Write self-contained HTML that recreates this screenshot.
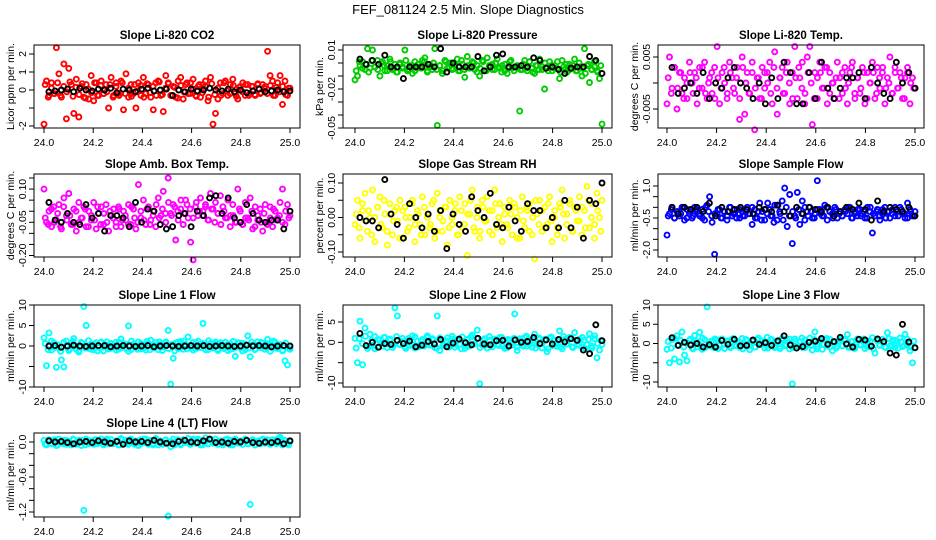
<!DOCTYPE html>
<html><head><meta charset="utf-8">
<style>
html,body{margin:0;padding:0;background:#fff;}
svg{display:block;font-family:"Liberation Sans",sans-serif;}
</style></head>
<body>
<svg id="chart" width="936" height="540" viewBox="0 0 936 540" xmlns="http://www.w3.org/2000/svg">
<text x="468" y="14" text-anchor="middle" font-size="13">FEF_081124  2.5 Min. Slope Diagnostics</text>
</svg>
<script>
// ---- data arrays ----
const xTicks = [24.0, 24.2, 24.4, 24.6, 24.8, 25.0];
const xTickLabels = ["24.0", "24.2", "24.4", "24.6", "24.8", "25.0"];

const co2Vals = [-1.9,0.5,-0.3,0.4,-0.2,2.35,0.9,-0.4,1.45,-1.6,1.2,0.3,-1.3,0.6,-1.5,0.2,-0.4,0.3,-0.5,0.8,-0.6,0.4,-0.3,0.5,-0.2,0.3,-1.0,0.7,-0.3,0.4,-0.2,0.5,-1.1,0.9,-0.4,0.3,-0.2,-1.0,0.4,-0.3,0.7,-0.2,0.3,-0.4,-1.1,0.4,0.5,-0.3,-1.2,0.8,0.4,-0.3,0.2,-0.4,0.5,0.7,-0.5,0.3,-0.2,0.4,0.6,-0.3,0.2,-0.4,0.3,0.5,-0.6,0.7,-1.9,-1.3,-0.5,0.4,-0.2,0.5,-0.3,0.3,0.6,-0.2,-0.5,0.2,0.4,-0.3,0.3,-0.2,0.2,-0.3,0.3,-0.2,0.3,0.2,2.15,0.8,0.5,-0.3,0.4,0.8,-0.8,0.5,-0.3,0.1];
const co2Band = [0.3,-0.4,0.1,-0.2,0.4,-0.3,0.2,-0.1,0.45,-0.35,0.15,-0.25,0.35,-0.45,0.05,-0.15,0.4,-0.3,0.25,-0.2,-0.1,0.3,-0.4,0.2,-0.3,0.4,-0.2,0.1,-0.35,0.3,-0.05,0.25,-0.4,0.35,-0.15,0.2,-0.3,0.45,-0.25,0.1,0.35,-0.3,0.15,-0.45,0.25,-0.1,0.4,-0.2,0.05,-0.35,0.3,-0.15,0.2,-0.4,0.35,-0.25,0.1,-0.3,0.4,-0.05,-0.2,0.25,-0.35,0.15,-0.1,0.3,-0.3,0.2,-0.25,0.35,-0.15,0.1,-0.2,0.25,-0.3,0.15,-0.1,0.2,-0.25,0.1];
const co2Black = [-0.1,-0.05,0,0.05,-0.1,0.1,0,-0.05,0.05,0,0.1,-0.15,0.05,0,-0.1,0.05,0.1,-0.05,0,0.05,-0.3,0,-0.1,0.05,-0.05,0,0.1,0,-0.05,0.05,-0.1,0,-0.15,-0.05,0.05,-0.1,-0.05,0,-0.1,-0.05];

const presVals = [-0.013,-0.010,-0.002,0.001,-0.005,0.011,-0.004,0.010,-0.003,0.002,-0.010,0.001,-0.006,-0.002,0.003,-0.005,-0.001,-0.007,0.000,-0.004,0.010,-0.006,-0.002,-0.008,0.001,-0.004,-0.003,0.002,0.004,-0.006,-0.001,-0.005,0.011,-0.048,-0.002,-0.008,0.002,-0.004,0.000,-0.005,-0.002,0.003,-0.006,-0.001,-0.011,0.005,-0.004,0.001,-0.005,-0.002,-0.010,0.002,-0.006,0.004,-0.003,-0.001,-0.005,0.003,-0.004,-0.002,-0.006,-0.008,0.001,-0.004,-0.003,-0.002,-0.037,-0.005,0.002,-0.006,0.001,-0.004,-0.008,-0.002,0.003,-0.005,-0.020,-0.003,0.001,-0.006,-0.002,-0.004,-0.012,0.002,-0.005,-0.007,-0.001,-0.004,0.003,-0.006,-0.003,-0.010,0.011,-0.002,-0.015,-0.005,0.001,-0.006,-0.012,-0.047];
const presBand = [-0.006,0.001,-0.004,-0.001,-0.007,0.002,-0.003,-0.005,0.000,-0.002,-0.006,0.001,-0.004,-0.007,-0.001,-0.003,0.002,-0.005,-0.002,-0.006,-0.001,-0.004,0.001,-0.007,-0.003,0.000,-0.005,-0.002,-0.006,0.001,-0.003,-0.004,-0.001,-0.006,0.002,-0.005,-0.002,-0.003,0.000,-0.007,-0.004,0.001,-0.006,-0.002,-0.005,0.000,-0.003,-0.007,-0.001,-0.004,0.002,-0.006,-0.003,-0.005,-0.001,-0.004,0.001,-0.007,-0.002,-0.005,-0.003,0.000,-0.006,-0.002,-0.004,0.001,-0.007,-0.003,-0.001,-0.005,-0.002,-0.006,0.000,-0.004,-0.008,-0.001,-0.005,-0.003,-0.007,-0.002];
const presBlack = [0.003,-0.001,0.002,-0.001,0.006,-0.003,-0.003,-0.012,-0.003,-0.003,-0.003,-0.001,-0.003,0.011,-0.007,0.000,-0.003,-0.003,-0.003,0.005,-0.006,-0.003,0.006,0.007,-0.003,-0.003,-0.002,-0.003,0.004,0.002,-0.004,-0.003,-0.005,-0.008,-0.004,-0.003,-0.003,0.005,0.002,-0.008];

const tempVals = [-0.004,0.005,-0.001,0.003,-0.005,0.002,-0.002,0.001,-0.003,0.004,0.000,0.002,-0.004,0.003,-0.001,0.004,-0.003,0.001,-0.002,0.003,0.007,-0.004,0.002,0.000,-0.003,0.004,0.001,-0.002,0.003,-0.007,0.005,-0.006,0.002,-0.002,0.004,-0.009,0.001,-0.003,0.003,-0.001,0.002,0.004,-0.004,0.006,-0.006,0.001,0.003,-0.002,0.004,-0.004,0.002,0.007,-0.003,0.001,0.004,-0.004,0.005,0.007,-0.008,0.002,-0.003,0.004,-0.001,0.003,-0.004,0.002,0.000,-0.003,0.004,0.001,-0.002,0.003,-0.004,0.002,0.004,-0.003,0.001,-0.002,0.003,-0.004,0.002,0.000,0.004,-0.003,0.003,-0.001,0.002,-0.004,0.001,0.005,-0.002,0.003,-0.001,0.002,-0.003,0.001,0.003,-0.004,0.001,-0.001];
const tempBand = [0.001,-0.002,0.003,-0.001,0.002,-0.003,0.000,0.002,-0.002,0.001,-0.001,0.003,-0.002,0.000,0.002,-0.003,0.001,-0.001,0.003,-0.002,0.002,-0.001,0.001,-0.003,0.003,0.000,-0.002,0.002,-0.001,0.001,-0.003,0.002,0.000,-0.002,0.003,-0.001,0.001,-0.002,0.002,0.000,-0.003,0.001,0.003,-0.001,-0.002,0.002,0.000,-0.003,0.001,0.002,-0.001,0.003,-0.002,0.000,0.001,-0.003,0.002,-0.001,0.000,0.003,-0.002,0.001,-0.001,0.002,-0.003,0.000,0.002,-0.002,0.001,0.003,-0.001,0.000,-0.002,0.002,-0.001,0.001,-0.003,0.002,0.000,-0.001];
const tempBlack = [0.003,-0.002,-0.001,0.000,-0.002,0.002,-0.003,0.000,-0.001,0.001,0.003,0.000,-0.001,-0.003,0.000,-0.004,0.001,-0.003,0.004,0.002,-0.004,-0.004,0.002,-0.003,0.004,-0.001,-0.003,-0.001,0.001,0.001,0.002,-0.003,0.003,0.000,-0.002,-0.003,0.004,0.000,0.002,-0.001];

const ambVals = [0.10,-0.05,0.00,-0.07,0.02,-0.04,0.03,-0.08,0.06,-0.02,0.08,-0.06,0.01,-0.09,0.04,-0.03,0.02,-0.07,0.00,-0.04,0.04,-0.08,-0.01,0.02,-0.06,0.03,-0.09,-0.02,0.01,-0.05,0.02,-0.07,0.00,-0.04,0.03,-0.06,0.01,-0.08,0.12,-0.03,0.05,-0.06,0.02,-0.04,0.00,-0.07,0.06,-0.02,0.09,-0.05,0.15,-0.01,0.03,-0.13,-0.04,0.01,-0.06,0.05,-0.03,-0.14,-0.22,0.02,-0.02,0.06,0.00,0.03,-0.04,0.08,0.01,0.04,-0.01,0.07,0.02,-0.03,0.05,-0.02,0.03,-0.05,0.10,0.00,-0.06,0.04,-0.03,0.06,-0.08,0.02,-0.04,0.01,-0.09,0.03,-0.05,0.02,-0.07,0.00,-0.03,0.04,0.10,-0.06,0.03,-0.02];
const ambBand = [-0.03,-0.06,0.01,-0.05,-0.01,-0.07,0.02,-0.04,-0.02,-0.06,0.00,-0.05,-0.03,0.01,-0.07,-0.02,-0.04,0.02,-0.06,-0.01,-0.05,0.00,-0.03,-0.07,0.01,-0.04,-0.02,-0.06,0.02,-0.03,-0.05,0.00,-0.04,0.01,-0.06,-0.02,0.03,-0.03,0.01,-0.01,0.04,-0.02,0.02,0.00,0.05,-0.01,0.03,0.01,-0.03,0.04,0.00,-0.02,0.02,-0.04,0.01,-0.05,-0.01,-0.06,0.00,-0.03,-0.07,-0.02,-0.05,0.01,-0.06,-0.03,-0.04,0.00,-0.07,-0.02,-0.05,-0.01,-0.06,-0.03,0.01,-0.04,-0.02,-0.05,0.00,-0.03];
const ambBlack = [0.04,-0.04,-0.05,-0.01,-0.05,-0.06,0.03,-0.03,-0.01,-0.09,-0.02,-0.02,-0.03,-0.07,0.04,-0.05,0.01,0.00,-0.06,-0.08,-0.07,-0.02,-0.01,-0.07,0.00,-0.02,0.06,0.07,-0.01,0.06,-0.03,-0.05,0.03,-0.01,-0.04,-0.05,-0.04,-0.04,-0.08,0.00];

const rhVals = [-0.02,0.05,-0.06,0.02,0.07,-0.04,0.00,0.08,-0.07,0.03,0.06,-0.03,0.01,-0.08,0.04,-0.05,0.02,-0.01,0.05,-0.06,0.03,-0.04,0.00,0.05,-0.07,0.02,-0.02,0.06,-0.05,0.01,-0.03,0.04,-0.06,0.07,0.00,-0.04,0.03,-0.08,0.05,-0.02,0.02,-0.05,0.06,-0.03,0.04,-0.11,0.01,0.08,-0.04,0.03,-0.06,0.05,-0.01,0.06,-0.04,0.02,0.08,-0.03,0.04,-0.07,0.01,-0.02,0.05,-0.05,0.03,0.00,-0.06,0.06,-0.03,0.02,0.04,-0.05,-0.12,0.01,0.05,-0.04,0.03,-0.02,0.06,-0.07,0.02,-0.03,0.04,0.08,-0.06,0.01,0.05,-0.04,0.03,-0.01,0.06,-0.05,0.02,0.09,-0.03,0.04,-0.06,0.07,0.00,0.05];
const rhBand = [0.01,-0.03,0.04,-0.01,0.02,-0.05,0.00,0.03,-0.02,0.05,-0.04,0.01,-0.01,0.03,-0.06,0.02,0.00,-0.03,0.04,-0.02,0.01,-0.05,0.03,0.00,-0.02,0.05,-0.04,0.02,-0.01,0.03,-0.03,0.00,0.04,-0.05,0.02,-0.02,0.01,0.05,-0.03,0.00,-0.04,0.03,-0.01,0.02,-0.05,0.04,0.00,-0.02,0.03,-0.03,0.01,0.04,-0.06,0.02,-0.01,0.03,-0.04,0.00,0.05,-0.02,0.02,-0.03,0.04,-0.01,0.00,-0.05,0.03,0.01,-0.02,0.04,-0.04,0.02,-0.01,0.03,-0.03,0.05,0.00,-0.02,0.02,-0.04];
const rhBlack = [0.00,-0.01,-0.01,-0.03,0.11,0.01,-0.02,-0.06,0.04,0.00,-0.03,0.01,-0.04,0.02,-0.09,0.01,-0.02,-0.04,0.06,0.02,0.00,0.07,-0.02,-0.03,0.03,-0.01,-0.04,0.04,0.02,0.02,-0.03,0.00,-0.03,0.05,-0.03,0.03,-0.06,0.05,0.04,0.10];

const flowVals = [-1.3,-0.3,0.0,-0.5,-0.2,-0.4,0.0,-0.6,-0.1,-0.3,-0.5,0.0,-0.2,-0.4,-0.1,-0.6,0.1,0.5,-0.7,-2.2,-0.3,-0.1,-0.5,-0.2,-0.6,0.0,-0.4,-0.3,-0.1,-0.5,-0.2,-0.4,0.0,-0.3,-0.8,-0.1,-0.5,0.2,-0.2,-0.6,-0.3,-0.1,-0.4,0.1,-0.6,-0.2,0.3,0.9,-0.9,0.6,-1.7,-0.4,0.7,-0.8,0.3,-0.6,-0.2,0.0,-0.5,-0.3,1.25,-0.1,-0.4,0.1,-0.6,-0.2,-0.3,0.0,-0.5,-0.2,-0.4,-0.1,-0.3,0.0,-0.5,-0.2,-0.4,-0.1,-0.3,-0.5,0.0,-0.2,-1.2,-0.4,-0.1,-0.6,-0.3,0.0,-0.2,-0.5,-0.1,-0.4,-0.2,0.0,-0.3,-0.5,0.2,-0.1,-0.4,-0.2];
const flowBand = [-0.4,-0.1,-0.5,-0.2,-0.3,0.0,-0.5,-0.2,-0.4,-0.1,-0.3,-0.5,0.0,-0.2,-0.4,-0.3,-0.1,-0.5,-0.2,-0.4,0.0,-0.3,-0.5,-0.1,-0.4,-0.2,-0.3,0.0,-0.5,-0.2,-0.6,-0.1,0.2,-0.4,-0.7,0.1,-0.3,-0.6,0.0,-0.4,-0.2,-0.5,-0.1,-0.3,0.0,-0.4,-0.2,-0.5,-0.1,-0.3,-0.4,0.0,-0.2,-0.5,-0.1,-0.3,-0.4,-0.2,0.0,-0.5,-0.3,-0.1,-0.4,-0.2,-0.5,0.0,-0.3,-0.2,-0.4,-0.1,-0.5,-0.2,-0.3,0.0,-0.4,-0.1,-0.3,-0.5,-0.2,-0.4];
const flowBlack = [0.0,-0.3,0.0,-0.1,0.0,-0.2,0.2,-0.4,0.0,-0.2,-0.1,0.0,-0.1,-0.3,0.0,-0.1,-0.2,0.1,-0.2,-0.4,0.0,-0.3,0.0,-0.1,-0.2,0.0,-0.4,-0.2,0.0,-0.1,0.2,-0.1,-0.6,0.3,-0.2,0.0,-0.1,-0.2,0.0,-0.4];

const line1Vals = [2.0,-4.8,3.2,-1.0,0.8,-5.2,-0.5,-3.4,-5.1,1.2,-1.1,0.6,1.8,-0.8,-1.5,0.9,9.6,5.0,-0.6,0.5,-0.9,0.8,-0.4,1.0,-1.2,0.3,-0.7,0.6,-0.3,0.9,-0.8,1.7,0.4,-0.6,4.9,-0.9,0.5,-0.4,1.0,-0.7,0.3,-1.0,0.6,1.4,-0.5,0.8,-0.9,0.4,-0.3,1.0,3.8,-9.3,-3.0,0.7,-0.6,1.1,-0.8,0.4,2.2,-0.5,0.9,-0.7,1.2,-0.4,5.5,0.3,-0.9,0.6,-0.5,1.0,-0.8,0.4,-0.3,0.9,-1.1,0.5,-0.6,-2.5,0.8,-0.4,0.6,-0.9,2.5,-2.6,0.3,-0.7,1.0,-0.4,0.7,-0.8,1.6,0.2,-0.5,0.9,-0.6,0.4,-1.2,-3.6,-4.6,-0.8];
const line1Band = [0.6,-0.9,1.2,-0.4,0.3,-1.3,0.9,-0.2,-0.7,1.1,0.0,-1.1,0.7,-0.5,1.3,-0.8,0.4,-1.2,0.8,-0.3,1.0,-0.6,0.2,-1.0,0.9,-0.4,0.5,-1.3,1.2,-0.1,-0.8,0.6,-0.5,1.1,-0.9,0.3,-0.2,1.0,-1.1,0.7,-0.6,0.4,-1.2,0.9,-0.3,1.2,-0.7,0.1,-1.0,0.8,-0.4,0.6,-0.9,1.3,-0.2,0.5,-1.1,0.8,-0.6,0.3,-0.8,1.1,-0.3,0.7,-1.2,0.4,-0.5,1.0,-0.9,0.2,0.9,-0.7,0.5,-1.3,1.2,-0.4,0.3,-1.0,0.7,-0.6];
const line1Black = [0.0,0.1,-0.3,0.0,0.2,0.0,-0.1,0.0,0.1,0.1,-0.2,0.0,0.1,0.0,-0.1,0.0,0.1,-0.2,0.0,0.1,0.0,-0.1,0.0,0.1,0.0,0.1,-0.1,0.0,0.1,0.0,-0.1,0.0,0.2,0.0,0.1,0.0,-0.2,0.0,0.1,0.0];

const line2Vals = [1.0,-5.0,5.2,-5.5,3.5,-1.5,2.0,-0.8,1.4,-1.2,0.6,-0.9,1.2,-0.4,0.8,-1.3,8.5,6.5,-0.6,1.0,-1.1,0.5,-0.8,1.6,-1.4,0.3,-0.9,0.7,-0.5,1.2,-0.7,0.9,-1.3,6.5,-2.0,0.4,-0.8,1.1,-0.6,0.8,-1.2,0.5,-0.4,1.3,-1.5,0.7,-0.9,1.8,-0.3,3.0,-10.2,-0.6,0.9,-1.4,0.5,-1.1,0.8,-0.5,1.2,-0.9,0.6,-1.3,0.4,-0.7,7.0,-2.0,0.9,-0.6,1.2,-0.9,0.4,-1.2,2.0,-0.5,0.8,-1.4,0.6,-2.3,1.1,-0.8,0.5,-1.0,2.8,-1.6,0.7,-0.4,1.2,-1.1,2.4,-0.7,0.8,-1.2,0.5,-0.6,2.1,-1.4,0.9,-3.8,-1.9,-0.5];
const line2Band = [-1.4,0.9,-0.3,1.5,-1.0,0.4,-1.6,0.7,-0.2,1.2,-1.3,0.5,-0.8,1.4,-0.4,0.2,-1.5,1.0,-0.6,1.3,-1.1,0.3,-0.9,1.6,-0.3,0.6,-1.4,1.1,-0.7,0.4,-1.2,1.5,-0.5,0.8,-1.6,0.2,-1.0,1.3,-0.4,0.9,-1.3,0.5,-0.6,1.4,-1.1,0.3,-0.8,1.2,-1.5,0.7,-0.2,1.0,-1.2,0.4,-0.9,1.5,-0.5,0.6,-1.4,1.1,-0.3,0.8,-1.6,1.3,-0.7,0.2,-1.1,1.4,-0.4,0.9,-1.3,0.5,-0.6,1.2,-1.5,0.7,-0.9,1.6,-0.3,0.4];
const line2Black = [2.2,-0.8,0.0,-1.2,-0.3,-0.5,0.5,-0.3,0.3,-1.1,-0.7,0.2,-0.4,0.7,-1.1,-0.2,0.8,-0.1,-0.6,1.0,-0.4,-0.6,0.4,0.5,-0.9,0.6,0.0,0.2,1.2,-0.3,0.6,-0.4,0.7,0.1,0.9,0.5,-1.9,-2.8,4.3,0.4];

const line3Vals = [-1.5,-5.0,1.0,-4.0,2.0,-4.8,3.0,-3.0,-4.5,0.8,-1.2,2.1,-0.9,2.9,-1.5,1.0,9.5,-0.6,0.7,-1.1,0.9,-0.5,1.2,-1.3,0.4,-0.8,1.1,-0.6,0.5,-1.0,1.3,-0.4,0.8,-1.6,0.6,-0.9,1.0,-0.3,0.7,-1.2,1.6,-0.5,0.9,-1.1,0.4,-0.7,1.3,-0.6,0.8,-1.4,-10.5,1.2,-0.6,0.5,-1.0,0.9,-0.4,1.4,-1.7,3.0,-0.8,0.6,-1.5,0.9,-0.5,1.1,-1.9,0.4,-0.7,1.2,-0.6,0.8,2.3,-1.0,0.5,-0.9,1.2,-0.4,0.9,-1.3,0.6,-0.8,1.5,-2.5,0.7,-0.5,1.1,-0.9,2.8,-0.6,0.9,-1.1,0.5,1.4,-0.8,2.4,-0.5,-1.9,-5.0,-1.2];
const line3Band = [0.5,-1.2,1.3,-0.4,0.8,-0.9,0.2,1.1,-1.4,0.6,-0.3,1.4,-1.0,0.4,-0.7,1.2,-1.3,0.9,-0.2,0.7,-1.1,1.3,-0.5,0.3,-1.4,1.0,-0.6,0.8,-0.9,1.4,-0.3,0.5,-1.2,1.1,-0.8,0.2,-1.3,0.9,-0.4,1.2,-1.0,0.6,-0.7,1.4,-1.1,0.3,-0.5,1.0,-1.4,0.8,-0.2,1.3,-0.9,0.4,-1.2,0.7,-0.6,1.1,-1.0,0.5,-1.3,0.9,-0.3,1.2,-0.8,0.6,-1.4,1.0,-0.4,0.3,-1.1,1.3,-0.7,0.8,-1.2,0.4,-0.5,1.1,-0.9,0.6];
const line3Black = [1.5,-0.5,0.3,-0.4,0.0,-0.9,-0.3,-0.9,0.8,-0.2,1.1,-0.6,-0.5,0.9,-0.2,0.2,-0.5,0.7,2.0,-0.4,-1.2,-0.8,0.3,0.6,1.3,-0.2,0.5,1.6,-0.1,-0.9,1.1,0.9,-0.7,1.2,0.5,-2.5,-3.0,5.0,0.4,-1.1];

const line4Vals = [0.03,-0.05,0.04,-0.03,0.02,-0.06,0.05,-0.02,0.03,-0.04,0.01,-0.05,0.04,-0.02,0.03,-0.06,-1.17,0.05,-0.03,0.02,-0.04,0.04,-0.01,0.05,-0.05,0.02,-0.03,0.04,-0.02,0.01,-0.05,0.06,-0.03,0.03,-0.04,0.05,-0.02,0.02,-0.06,0.04,-0.01,0.05,-0.04,0.03,-0.02,0.06,-0.05,0.02,-0.03,0.04,-1.27,-0.08,0.05,-0.03,0.02,-0.05,0.04,-0.01,0.06,-0.04,0.03,-0.02,0.05,-0.05,0.02,0.07,-0.03,0.04,-0.02,0.05,-0.04,0.02,-0.05,0.04,-0.01,0.03,-0.05,0.05,-0.02,0.02,-0.04,0.05,-0.03,-1.07,0.04,-0.05,0.02,-0.03,0.05,-0.02,0.03,-0.04,0.04,-0.01,0.05,0.08,-0.05,0.03,-0.02,0.01];
const line4Band = [-0.04,0.02,-0.02,0.04,-0.05,0.01,-0.03,0.03,-0.01,0.05,-0.04,0.00,0.03,-0.05,0.02,-0.02,0.04,-0.03,0.01,-0.04,0.05,-0.01,-0.03,0.02,-0.05,0.04,-0.02,0.00,0.03,-0.04,0.01,-0.03,0.05,-0.02,0.02,-0.05,0.04,-0.01,-0.04,0.03,-0.02,0.01,-0.05,0.04,-0.03,0.02,0.00,-0.04,0.05,-0.02,0.03,-0.05,0.01,-0.03,0.04,-0.01,-0.04,0.02,-0.02,0.05,-0.05,0.03,-0.01,0.01,-0.04,0.04,-0.03,0.02,-0.05,0.00,0.03,-0.02,0.04,-0.04,0.01,-0.03,0.05,-0.02,0.02,-0.05];
const line4Black = [0.02,0.00,0.01,-0.01,-0.03,0.00,0.01,-0.01,0.02,0.00,-0.02,0.01,-0.04,0.02,0.00,0.01,-0.01,0.03,0.00,-0.02,-0.03,0.01,0.03,0.00,-0.01,0.02,0.05,-0.01,0.00,-0.02,0.01,0.00,0.03,-0.01,-0.02,0.00,-0.01,0.01,-0.03,0.02];

const co2Ticks = [2,1,0,-1,-2];            const co2TickLabels = ["2","1","0","","-2"];
const presTicks = [0.01,0,-0.01,-0.02,-0.03,-0.04,-0.05]; const presTickLabels = ["0.01","","","-0.02","","","-0.05"];
const tempTicks = [0.005,0,-0.005];        const tempTickLabels = ["0.005","","-0.005"];
const ambTicks = [0.15,0.10,0.05,0,-0.05,-0.10,-0.15,-0.20]; const ambTickLabels = ["","0.10","","","-0.05","","","-0.20"];
const rhTicks = [0.10,0.05,0,-0.05,-0.10]; const rhTickLabels = ["0.10","","0.00","","-0.10"];
const flowTicks = [1.0,0.5,0,-0.5,-1.0,-1.5,-2.0]; const flowTickLabels = ["1.0","","","-0.5","","","-2.0"];
const line1Ticks = [10,5,0,-5,-10];        const line1TickLabels = ["10","5","0","","-10"];
const line2Ticks = [5,0,-5,-10];           const line2TickLabels = ["5","0","","-10"];
const line3Ticks = [10,5,0,-5,-10];        const line3TickLabels = ["10","5","0","","-10"];
const line4Ticks = [0,-0.2,-0.4,-0.6,-0.8,-1.0,-1.2]; const line4TickLabels = ["0.0","","","-0.6","","","-1.2"];

// ---- layout (geometry only) ----
const cols = [{x0:34,x1:300,a:44,b:290},{x0:343,x1:612,a:355,b:602},{x0:658,x1:924,a:667,b:915}];
const rows = [{y0:45,y1:128},{y0:174,y1:257},{y0:305,y1:387},{y0:433,y1:517}];
const panels = [
 {name:"co2",title:"Slope Li-820 CO2",yl:"Licor ppm per min.",c:0,r:0,col:"#ff0000",vals:co2Vals,band:co2Band,blk:co2Black,ticks:co2Ticks,tl:co2TickLabels,va:2,pa:54,vb:-2,pb:126},
 {name:"pressure",title:"Slope Li-820 Pressure",yl:"kPa per min.",c:1,r:0,col:"#00cd00",vals:presVals,band:presBand,blk:presBlack,ticks:presTicks,tl:presTickLabels,va:0.01,pa:50,vb:-0.05,pb:128},
 {name:"li820-temp",title:"Slope Li-820 Temp.",yl:"degrees C per min.",c:2,r:0,col:"#ff00ff",vals:tempVals,band:tempBand,blk:tempBlack,ticks:tempTicks,tl:tempTickLabels,va:0.005,pa:57,vb:-0.005,pb:109},
 {name:"amb-box-temp",title:"Slope Amb. Box Temp.",yl:"degrees C per min.",c:0,r:1,col:"#ff00ff",vals:ambVals,band:ambBand,blk:ambBlack,ticks:ambTicks,tl:ambTickLabels,va:0.15,pa:178,vb:-0.20,pb:255.5},
 {name:"gas-stream-rh",title:"Slope Gas Stream RH",yl:"percent per min.",c:1,r:1,col:"#ffff00",vals:rhVals,band:rhBand,blk:rhBlack,ticks:rhTicks,tl:rhTickLabels,va:0.10,pa:183,vb:-0.10,pb:252},
 {name:"sample-flow",title:"Slope Sample Flow",yl:"ml/min per min.",c:2,r:1,col:"#0000ff",vals:flowVals,band:flowBand,blk:flowBlack,ticks:flowTicks,tl:flowTickLabels,va:1.0,pa:186,vb:-2.0,pb:250},
 {name:"line1-flow",title:"Slope Line 1 Flow",yl:"ml/min per min.",c:0,r:2,col:"#00ffff",vals:line1Vals,band:line1Band,blk:line1Black,ticks:line1Ticks,tl:line1TickLabels,va:10,pa:305,vb:-10,pb:387},
 {name:"line2-flow",title:"Slope Line 2 Flow",yl:"ml/min per min.",c:1,r:2,col:"#00ffff",vals:line2Vals,band:line2Band,blk:line2Black,ticks:line2Ticks,tl:line2TickLabels,va:5,pa:322,vb:-10,pb:383},
 {name:"line3-flow",title:"Slope Line 3 Flow",yl:"ml/min per min.",c:2,r:2,col:"#00ffff",vals:line3Vals,band:line3Band,blk:line3Black,ticks:line3Ticks,tl:line3TickLabels,va:10,pa:305,vb:-10,pb:382},
 {name:"line4-flow",title:"Slope Line 4 (LT) Flow",yl:"ml/min per min.",c:0,r:3,col:"#00ffff",vals:line4Vals,band:line4Band,blk:line4Black,ticks:line4Ticks,tl:line4TickLabels,va:0,pa:442,vb:-1.2,pb:512}
];

const NS = "http://www.w3.org/2000/svg";
const svg = document.getElementById('chart');
function mk(tag, attrs, parent){ const e=document.createElementNS(NS,tag); for(const k in attrs) e.setAttribute(k,attrs[k]); (parent||svg).appendChild(e); return e; }

panels.forEach(p=>{
  const C=cols[p.c], R=rows[p.r];
  const xs = v => C.a + (v-24)*(C.b-C.a);
  const ys = v => p.pa + (v-p.va)*(p.pb-p.pa)/(p.vb-p.va);
  const g = mk('g',{});
  
  

  const t = mk('text',{x:(C.x0+C.x1)/2,y:R.y0-6,'text-anchor':'middle','font-size':'11.5','font-weight':'bold'},g);
  t.textContent=p.title;
  
  

  const pg = mk('g',{fill:'none',stroke:p.col,'stroke-width':'1.9'},g);
  
  
  const nb=p.band.length;
  p.band.forEach((v,i)=>{
    const c=mk('circle',{cx:xs(24.005+0.99*i/(nb-1)).toFixed(1),cy:ys(v).toFixed(1),r:2.5},pg);
    
    
  });
  const n=p.vals.length;
  p.vals.forEach((v,i)=>{
    const c=mk('circle',{cx:xs(24+i/(n-1)).toFixed(1),cy:ys(v).toFixed(1),r:2.5},pg);
    
    
  });
  const bg = mk('g',{fill:'none',stroke:'#000','stroke-width':'1.9'},g);
  
  
  const m=p.blk.length;
  p.blk.forEach((v,i)=>{
    const c=mk('circle',{cx:xs(24.02+0.98*i/(m-1)).toFixed(1),cy:ys(v).toFixed(1),r:2.5},bg);
    
    
  });

  const box=mk('rect',{x:C.x0,y:R.y0,width:C.x1-C.x0,height:R.y1-R.y0,fill:'none',stroke:'#000','stroke-width':'1'},g);
  
  

  const xa = mk('g',{stroke:'#000','stroke-width':'1'},g);
  
  
  mk('line',{x1:xs(xTicks[0]),x2:xs(xTicks[xTicks.length-1]),y1:R.y1,y2:R.y1},xa);
  xTicks.forEach((v,i)=>{
    mk('line',{x1:xs(v),x2:xs(v),y1:R.y1,y2:R.y1+5},xa);
    const tx=mk('text',{x:xs(v),y:R.y1+18,'text-anchor':'middle','font-size':'10.5',stroke:'none',fill:'#000'},xa);
    tx.textContent=xTickLabels[i];
    
    
  });

  const ya = mk('g',{stroke:'#000','stroke-width':'1'},g);
  
  
  mk('line',{x1:C.x0,x2:C.x0,y1:ys(p.ticks[0]),y2:ys(p.ticks[p.ticks.length-1])},ya);
  p.ticks.forEach((v,i)=>{
    const y=ys(v);
    mk('line',{x1:C.x0-5,x2:C.x0,y1:y,y2:y},ya);
    if(p.tl[i]){
      const tx=mk('text',{x:0,y:0,transform:`translate(${C.x0-8},${y}) rotate(-90)`,'text-anchor':'middle','font-size':'10.5',stroke:'none',fill:'#000'},ya);
      tx.textContent=p.tl[i];
      
      
    }
  });
  const yt=mk('text',{x:0,y:0,transform:`translate(${C.x0-20},${(R.y0+R.y1)/2}) rotate(-90)`,'text-anchor':'middle','font-size':'10.5'},g);
  yt.textContent=p.yl;
  
  
});
</script>
</body></html>
